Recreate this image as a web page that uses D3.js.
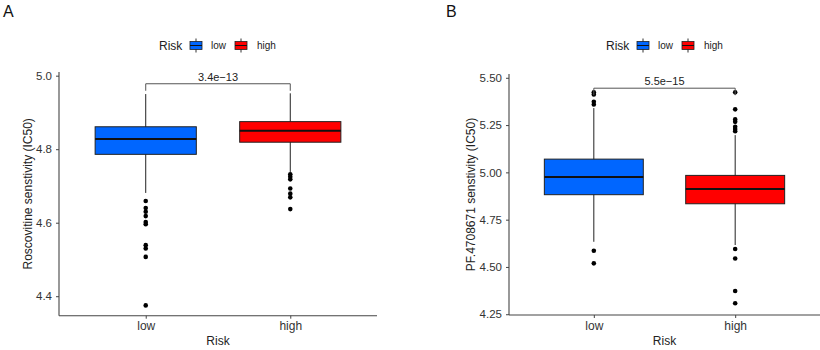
<!DOCTYPE html>
<html>
<head>
<meta charset="utf-8">
<script src="https://cdn.jsdelivr.net/npm/d3@7"></script>
<style>
  body { margin: 0; background: #fff; }
  svg { font-family: "Liberation Sans", Arial, sans-serif; }
</style>
</head>
<body>
<svg id="chart" width="820" height="350"></svg>
<script>
"use strict";

// groups and fills
var groups = ["low", "high"]
var groupFill = ["#0066ff", "#ff0000"]

// box stats: [whisker low, q1, median, q3, whisker high]
var roscoStats = [
    [4.681, 4.786, 4.828, 4.861, 4.950],
    [4.738, 4.819, 4.850, 4.875, 4.952]
]
var roscoOutliers = [
    [4.659, 4.640, 4.630, 4.618, 4.602, 4.596, 4.539, 4.530, 4.507, 4.375],
    [4.732, 4.725, 4.718, 4.693, 4.679, 4.669, 4.637]
]
var roscoTicks = [4.4, 4.6, 4.8, 5.0]

var pfStats = [
    [4.633, 4.882, 4.975, 5.070, 5.340],
    [4.616, 4.834, 4.912, 4.984, 5.197]
]
var pfOutliers = [
    [5.423, 5.412, 5.373, 5.359, 4.586, 4.519],
    [5.423, 5.333, 5.280, 5.267, 5.241, 5.229, 5.218, 4.595, 4.545, 4.373, 4.308]
]
var pfTicks = [4.25, 4.50, 4.75, 5.00, 5.25, 5.50]

var pLabels = ["3.4e\u221213", "5.5e\u221215"]

var svg = d3.select("#chart")

function drawPanel(p) {
    var g = svg.append("g")

    var x = d3.scalePoint().domain(groups).range([p.left, p.right]).padding(0.6)
    var y = d3.scaleLinear().domain(p.yDomain).range([p.bottom, p.top])
    var boxW = x.step() * 0.7

    // panel letter
    g.append("text")
        .attr("x", p.letterX).attr("y", 17)
        .attr("font-size", 16)
        .attr("fill", "#111")
        .text(p.letter)

    // legend
    var lg = g.append("g").attr("transform", "translate(" + p.legendX + ",50)")
    lg.append("text").attr("x", 0).attr("y", 0)
        .attr("font-size", 12).attr("fill", "#222").text("Risk")
    var keyX = [31, 76]
    var labX = [52, 98]
    groups.forEach(function(d, i) {
        var k = lg.append("g").attr("transform", "translate(" + keyX[i] + ",-4.5)")
        k.append("line").attr("x1", 6).attr("x2", 6).attr("y1", -7).attr("y2", 7)
            .attr("stroke", "#333").attr("stroke-width", 1)
        k.append("rect").attr("x", 0).attr("y", -4).attr("width", 12).attr("height", 8)
            .attr("fill", groupFill[i]).attr("stroke", "#222").attr("stroke-width", 0.8)
        k.append("line").attr("x1", 0).attr("x2", 12).attr("y1", 0).attr("y2", 0)
            .attr("stroke", "#111").attr("stroke-width", 1)
        lg.append("text").attr("x", labX[i]).attr("y", -1)
            .attr("font-size", 10).attr("fill", "#222").text(d)
    })

    // boxes
    groups.forEach(function(d, i) {
        var s = p.stats[i]
        var cx = x(d)
        g.append("line")
            .attr("x1", cx).attr("x2", cx)
            .attr("y1", y(s[0])).attr("y2", y(s[4]))
            .attr("stroke", "#222").attr("stroke-width", 1)
        g.append("rect")
            .attr("x", cx - boxW / 2).attr("width", boxW)
            .attr("y", y(s[3])).attr("height", y(s[1]) - y(s[3]))
            .attr("fill", groupFill[i])
            .attr("stroke", "#222").attr("stroke-width", 1)
        g.append("line")
            .attr("x1", cx - boxW / 2).attr("x2", cx + boxW / 2)
            .attr("y1", y(s[2])).attr("y2", y(s[2]))
            .attr("stroke", "#111").attr("stroke-width", 2)
        g.selectAll(null)
            .data(p.outliers[i])
            .enter().append("circle")
            .attr("cx", cx)
            .attr("cy", function(v) { return y(v) })
            .attr("r", 2.3)
            .attr("fill", "#000")
    })

    // significance bracket
    var by = y(p.bracketY)
    g.append("path")
        .attr("d", "M" + x(groups[0]) + "," + (by + 7) + "V" + by + "H" + x(groups[1]) + "V" + (by + 7))
        .attr("fill", "none").attr("stroke", "#555").attr("stroke-width", 1)
    g.append("text")
        .attr("x", (x(groups[0]) + x(groups[1])) / 2).attr("y", by - 3)
        .attr("text-anchor", "middle")
        .attr("font-size", 11).attr("fill", "#222")
        .text(p.pLabel)

    // axes
    var yAxis = g.append("g")
        .attr("transform", "translate(" + p.left + ",0)")
        .call(d3.axisLeft(y).tickValues(p.ticks).tickFormat(d3.format(p.fmt)).tickSize(3).tickPadding(4))
    var xAxis = g.append("g")
        .attr("transform", "translate(0," + p.bottom + ")")
        .call(d3.axisBottom(x).tickSize(3).tickPadding(3))
    ;[yAxis, xAxis].forEach(function(a) {
        a.select(".domain").attr("stroke", "#444").attr("stroke-width", 1.1)
        a.selectAll(".tick line").attr("stroke", "#444")
        a.selectAll(".tick text").attr("fill", "#333").attr("font-family", null)
    })
    yAxis.select(".domain").attr("d", "M0," + p.top + "V" + p.bottom)
    xAxis.select(".domain").attr("d", "M" + p.left + ",0H" + p.right)
    yAxis.selectAll(".tick text").attr("font-size", 11.5)
    xAxis.selectAll(".tick text").attr("font-size", 12)

    // axis titles
    g.append("text")
        .attr("x", (p.left + p.right) / 2).attr("y", 345)
        .attr("text-anchor", "middle")
        .attr("font-size", 12).attr("fill", "#222")
        .text("Risk")
    g.append("text")
        .attr("transform", "translate(" + p.yTitleX + "," + ((p.top + p.bottom) / 2) + ") rotate(-90)")
        .attr("text-anchor", "middle")
        .attr("dy", "0.35em")
        .attr("font-size", 12).attr("fill", "#222")
        .text(p.yTitle)
}

drawPanel({
    letter: "A", letterX: 3, legendX: 159,
    left: 59, right: 377, top: 72, bottom: 315.7,
    yDomain: [4.347, 5.01], ticks: roscoTicks, fmt: ".1f",
    stats: roscoStats, outliers: roscoOutliers,
    bracketY: 4.978, pLabel: pLabels[0],
    yTitle: "Roscovitine senstivity (IC50)", yTitleX: 27.5
})

drawPanel({
    letter: "B", letterX: 446, legendX: 606,
    left: 509, right: 820, top: 74, bottom: 315,
    yDomain: [4.246, 5.52], ticks: pfTicks, fmt: ".2f",
    stats: pfStats, outliers: pfOutliers,
    bracketY: 5.445, pLabel: pLabels[1],
    yTitle: "PF.4708671 senstivity (IC50)", yTitleX: 471
})
</script>
</body>
</html>
